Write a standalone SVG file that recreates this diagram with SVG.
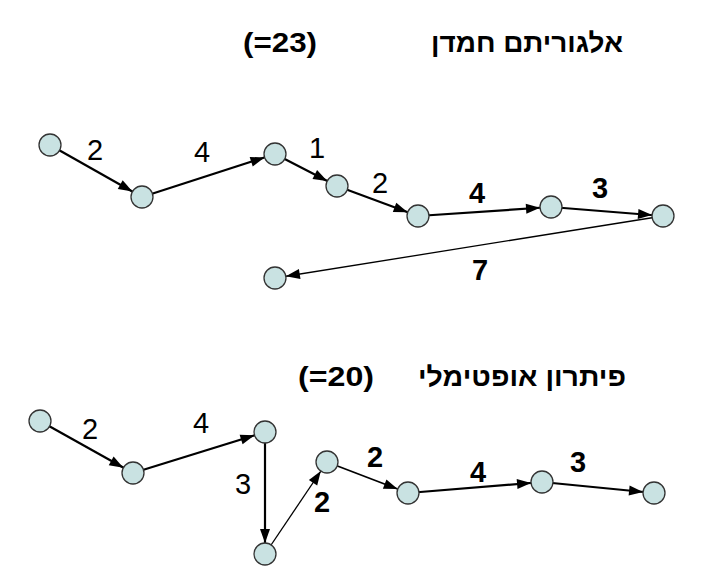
<svg xmlns="http://www.w3.org/2000/svg" width="718" height="586" viewBox="0 0 718 586">
<style>
.n{fill:#c9e2e2;stroke:#333;stroke-width:1.3}
.e{stroke:#000;fill:none;marker-end:url(#ah)}
.w{stroke-width:2.2}
.m{stroke-width:1.8}
.t{stroke-width:1.3}
.lb{font-family:"Liberation Sans",Arial,sans-serif;font-size:29px;fill:#000;text-anchor:middle}
.b{font-weight:bold}
.ti{font-family:"Liberation Sans","DejaVu Sans",Arial,sans-serif;font-size:27px;font-weight:bold;fill:#000}
</style>
<defs>
<marker id="ah" markerUnits="userSpaceOnUse" markerWidth="40" markerHeight="12" refX="25" refY="5" orient="auto" overflow="visible">
<path d="M0,0 L14,5 L0,10 z" fill="#000"/>
</marker>
</defs>
<rect width="718" height="586" fill="#fff"/>
<g id="titles">
<text class="ti" x="243" y="52" textLength="74" lengthAdjust="spacingAndGlyphs">(=23)</text>
<text class="ti" x="431" y="52" textLength="192" lengthAdjust="spacingAndGlyphs">אלגוריתם חמדן</text>
<text class="ti" x="298" y="386" textLength="76" lengthAdjust="spacingAndGlyphs">(=20)</text>
<text class="ti" x="418" y="386" textLength="208" lengthAdjust="spacingAndGlyphs">פיתרון אופטימלי</text>
</g>
<g id="connectors">
<line class="e w" x1="50" y1="145" x2="142" y2="197"/>
<line class="e w" x1="142" y1="197" x2="275" y2="154"/>
<line class="e w" x1="275" y1="154" x2="337" y2="186"/>
<line class="e w" x1="337" y1="186" x2="418" y2="216"/>
<line class="e w" x1="418" y1="216" x2="551" y2="207"/>
<line class="e w" x1="551" y1="207" x2="663" y2="216"/>
<line class="e t" x1="663" y1="216" x2="275" y2="278"/>
<line class="e w" x1="40" y1="421" x2="133" y2="473"/>
<line class="e w" x1="133" y1="473" x2="265" y2="432"/>
<line class="e w" x1="265" y1="432" x2="265" y2="554"/>
<line class="e t" x1="265" y1="554" x2="327" y2="462"/>
<line class="e m" x1="327" y1="462" x2="408" y2="493"/>
<line class="e w" x1="408" y1="493" x2="542" y2="482"/>
<line class="e w" x1="542" y1="482" x2="654" y2="493"/>
</g>
<g id="labels">
<text class="lb" x="95" y="160">2</text>
<text class="lb" x="202" y="162">4</text>
<text class="lb" x="317" y="158">1</text>
<text class="lb" x="380" y="193">2</text>
<text class="lb b" x="477" y="203">4</text>
<text class="lb b" x="600" y="198">3</text>
<text class="lb b" x="480" y="280">7</text>
<text class="lb" x="90" y="439">2</text>
<text class="lb" x="201" y="433">4</text>
<text class="lb" x="243" y="494">3</text>
<text class="lb b" x="322" y="512">2</text>
<text class="lb b" x="375" y="467">2</text>
<text class="lb b" x="478" y="482">4</text>
<text class="lb b" x="578" y="472">3</text>
</g>
<g id="n1"><circle class="n" cx="50" cy="145" r="11"/></g>
<g id="n2"><circle class="n" cx="142" cy="197" r="11"/></g>
<g id="n3"><circle class="n" cx="275" cy="154" r="11"/></g>
<g id="n4"><circle class="n" cx="337" cy="186" r="11"/></g>
<g id="n5"><circle class="n" cx="418" cy="216" r="11"/></g>
<g id="n6"><circle class="n" cx="551" cy="207" r="11"/></g>
<g id="n7"><circle class="n" cx="663" cy="216" r="11"/></g>
<g id="n8"><circle class="n" cx="275" cy="278" r="11"/></g>
<g id="m1"><circle class="n" cx="40" cy="421" r="11"/></g>
<g id="m2"><circle class="n" cx="133" cy="473" r="11"/></g>
<g id="m3"><circle class="n" cx="265" cy="432" r="11"/></g>
<g id="m4"><circle class="n" cx="265" cy="554" r="11"/></g>
<g id="m5"><circle class="n" cx="327" cy="462" r="11"/></g>
<g id="m6"><circle class="n" cx="408" cy="493" r="11"/></g>
<g id="m7"><circle class="n" cx="542" cy="482" r="11"/></g>
<g id="m8"><circle class="n" cx="654" cy="493" r="11"/></g>
</svg>
